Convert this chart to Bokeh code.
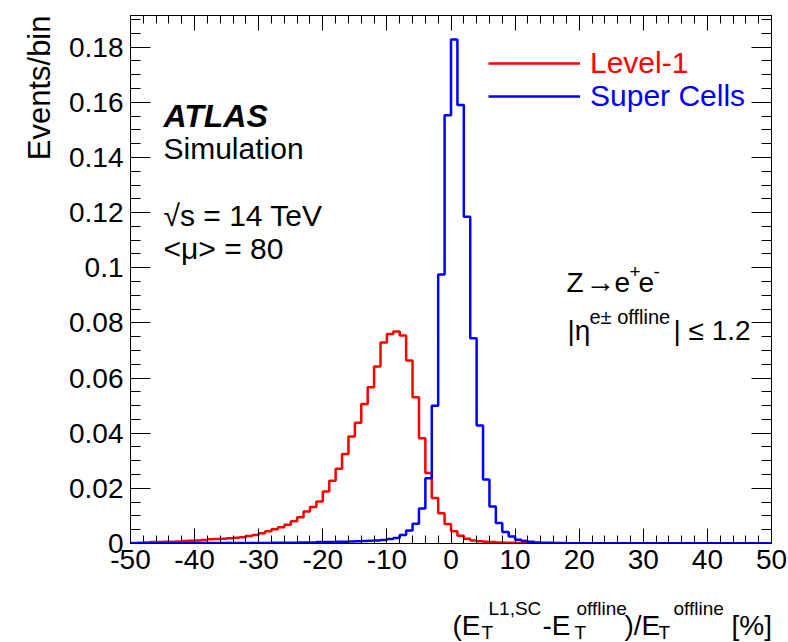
import math
from bokeh.plotting import figure
from bokeh.layouts import column
from bokeh.models import (Range1d, FixedTicker, CustomJSTickFormatter, LinearAxis,
                          Label, Legend, LegendItem, Title)
from bokeh.embed import file_html
from bokeh.resources import INLINE

# ---------------- data ----------------
bin_low = -50
bin_width = 1
# Level-1 histogram (bins of width 1 from -50 to 50)
level1 = [
    0.0002, 0.0003, 0.0004, 0.0005, 0.0005, 0.0006, 0.0006, 0.0007, 0.0009, 0.0010,   # -50..-41
    0.0011, 0.0013, 0.0015, 0.0016, 0.0017, 0.0019, 0.0021, 0.0023, 0.0027, 0.0031,   # -40..-31
    0.0037, 0.0044, 0.0052, 0.0059, 0.0068, 0.0081, 0.0095, 0.0116, 0.0132, 0.0152,   # -30..-21
    0.0189, 0.0228, 0.0271, 0.0325, 0.0388, 0.0438, 0.0506, 0.0567, 0.0642, 0.0729,   # -20..-11
    0.0760, 0.0769, 0.0754, 0.0664, 0.0530, 0.0382, 0.0256, 0.0165, 0.0110, 0.0071,   # -10..-1
    0.0044, 0.0028, 0.0017, 0.0011, 0.0008, 0.0006, 0.0005, 0.0004, 0.0003, 0.0003,   # 0..9
    0.0002, 0.0002, 0.0002, 0.0002, 0.0001, 0.0001, 0.0001, 0.0001, 0.0001, 0.0001,   # 10..19
    0.0001, 0.0001, 0.0001, 0.0001, 0.0001, 0.0001, 0.0001, 0.0001, 0.0001, 0.0001,   # 20..29
    0.0001, 0.0001, 0.0001, 0.0001, 0.0001, 0.0001, 0.0001, 0.0001, 0.0001, 0.0001,   # 30..39
    0.0001, 0.0001, 0.0001, 0.0001, 0.0001, 0.0001, 0.0001, 0.0001, 0.0001, 0.0001,   # 40..49
]
# Super Cells histogram
super_cells = [
    0.0001, 0.0001, 0.0001, 0.0001, 0.0001, 0.0001, 0.0001, 0.0001, 0.0001, 0.0001,   # -50..-41
    0.0002, 0.0002, 0.0002, 0.0002, 0.0002, 0.0002, 0.0002, 0.0002, 0.0002, 0.0002,   # -40..-31
    0.0002, 0.0002, 0.0003, 0.0003, 0.0003, 0.0003, 0.0004, 0.0004, 0.0004, 0.0005,   # -30..-21
    0.0005, 0.0005, 0.0006, 0.0006, 0.0007, 0.0008, 0.0009, 0.0010, 0.0011, 0.0013,   # -20..-11
    0.0016, 0.0020, 0.0031, 0.0047, 0.0072, 0.0127, 0.0237, 0.0500, 0.0976, 0.1553,   # -10..-1
    0.1828, 0.1590, 0.1185, 0.0744, 0.0428, 0.0232, 0.0134, 0.0074, 0.0042, 0.0025,   # 0..9
    0.0014, 0.0009, 0.0006, 0.0004, 0.0003, 0.0003, 0.0002, 0.0002, 0.0001, 0.0001,   # 10..19
    0.0001, 0.0001, 0.0001, 0.0001, 0.0001, 0.0001, 0.0001, 0.0001, 0.0001, 0.0001,   # 20..29
    0.0001, 0.0001, 0.0001, 0.0001, 0.0001, 0.0001, 0.0001, 0.0001, 0.0001, 0.0001,   # 30..39
    0.0001, 0.0001, 0.0001, 0.0001, 0.0001, 0.0001, 0.0001, 0.0001, 0.0001, 0.0001,   # 40..49
]
series_names = ["Level-1", "Super Cells"]
x_ticks = [-50, -40, -30, -20, -10, 0, 10, 20, 30, 40, 50]
x_tick_labels = ["-50", "-40", "-30", "-20", "-10", "0", "10", "20", "30", "40", "50"]
y_ticks = [0, 0.02, 0.04, 0.06, 0.08, 0.10, 0.12, 0.14, 0.16, 0.18]
y_tick_labels = ["0", "0.02", "0.04", "0.06", "0.08", "0.1", "0.12", "0.14", "0.16", "0.18"]

# ---------------- layout ----------------
W = 788
H1 = 590          # main figure height
H2 = 52           # strip holding the x-axis title
FL, FR, FT, FB = 130, 771, 15, 543          # frame edges in page pixels
XMIN, XMAX, YMIN, YMAX = -50, 50, 0.0, 0.1915
FONT = "Liberation Sans"

def X(px):
    return XMIN + (px - FL) / (FR - FL) * (XMAX - XMIN)

def Y(py):
    return YMIN + (FB - py) / (FB - FT) * (YMAX - YMIN)

p = figure(width=W, height=H1, output_backend="svg", toolbar_location=None, title=None,
           x_range=Range1d(XMIN, XMAX), y_range=Range1d(YMIN, YMAX),
           min_border_left=FL, min_border_top=FT,
           min_border_right=W - FR, min_border_bottom=H1 - FB,
           x_axis_location=None, y_axis_location=None)
p.grid.visible = False
p.outline_line_color = "black"
p.outline_line_width = 1
p.background_fill_color = "white"
p.border_fill_color = "white"

edges = [bin_low + i * bin_width for i in range(len(level1) + 1)]
r1 = p.step(x=edges, y=level1 + [level1[-1]], mode="after", line_color="#ff0000", line_width=2.5)
r2 = p.step(x=edges, y=super_cells + [super_cells[-1]], mode="after", line_color="#0000ff", line_width=2.5)

x_minor = [XMIN + 2 * i for i in range(51)]
y_minor = [0.005 * i for i in range(39)]

def fmt(tick_values, labels):
    return CustomJSTickFormatter(args=dict(tv=tick_values, tl=labels), code="""
        for (let i = 0; i < tv.length; i++) {
            if (Math.abs(tv[i] - tick) < 1e-9) return tl[i];
        }
        return "";
    """)

blank = CustomJSTickFormatter(code="return '';")

def style_axis(ax, major, minor, labels_on):
    ax.axis_line_color = "black"
    ax.major_tick_line_color = "black"
    ax.minor_tick_line_color = "black"
    ax.major_tick_in = major
    ax.major_tick_out = 0
    ax.minor_tick_in = minor
    ax.minor_tick_out = 0
    ax.major_label_text_font = FONT
    ax.major_label_text_font_size = "28px"
    ax.major_label_text_color = "black"
    if not labels_on:
        ax.major_label_standoff = 0

xb = LinearAxis(ticker=FixedTicker(ticks=x_ticks, minor_ticks=x_minor),
                formatter=fmt(x_ticks, x_tick_labels))
style_axis(xb, 15, 8, True)
xb.major_label_standoff = 6
p.add_layout(xb, "below")

xt = LinearAxis(ticker=FixedTicker(ticks=x_ticks, minor_ticks=x_minor), formatter=blank)
style_axis(xt, 15, 8, False)
p.add_layout(xt, "above")

yl = LinearAxis(ticker=FixedTicker(ticks=y_ticks, minor_ticks=y_minor),
                formatter=fmt(y_ticks, y_tick_labels))
style_axis(yl, 20, 10, True)
yl.major_label_standoff = 7
p.add_layout(yl, "left")

yr = LinearAxis(ticker=FixedTicker(ticks=y_ticks, minor_ticks=y_minor), formatter=blank)
style_axis(yr, 20, 10, False)
p.add_layout(yr, "right")

# y-axis title, aligned to the top of the axis
ytitle = Title(text="Events/bin", align="right", text_font=FONT, text_font_size="31px",
               text_font_style="normal", text_color="black", standoff=20)
p.add_layout(ytitle, "left")

# ---------------- legends ----------------
def make_legend(name, rend, color, line_py):
    lg = Legend(items=[LegendItem(label=name, renderers=[rend])],
                location=(488 - FL, FB - line_py - 15),
                glyph_width=92, glyph_height=30, label_height=30, label_standoff=10,
                padding=0, margin=0, spacing=0,
                label_text_font=FONT, label_text_font_size="30px", label_text_color=color,
                border_line_alpha=0, background_fill_alpha=0)
    p.add_layout(lg, "center")

make_legend(series_names[0], r1, "#ff0000", 65)
make_legend(series_names[1], r2, "#0000ff", 98)

# ---------------- texts inside the frame ----------------
def txt(s, px, py, size, style="normal", align="left", baseline="alphabetic"):
    p.add_layout(Label(x=X(px), y=Y(py), text=s, text_font=FONT, text_font_size=f"{size}px",
                       text_font_style=style, text_align=align, text_baseline=baseline,
                       text_color="black"))

txt("ATLAS", 163, 115, 32, style="bold italic")
txt("Simulation", 163, 148, 30)
txt("√s = 14 TeV", 163, 215, 30)
txt("<μ> = 80", 163, 248, 30)

# Z -> e+e-
txt("Z", 566, 282, 28)
txt("→", 585, 281, 30)
txt("e", 614, 282, 28)
txt("+", 629, 271, 19)
txt("e", 638, 282, 28)
txt("-", 653, 271, 19)

# |eta| <= 1.2
txt("|η", 567, 330, 28)
txt("e± offline", 589, 316, 20)
txt("| ≤ 1.2", 673, 330, 28)

# ---------------- x-axis title strip (frame aligned with the main plot) ----------------
p2 = figure(width=W, height=H2, output_backend="svg", toolbar_location=None, title=None,
            x_range=Range1d(XMIN, XMAX), y_range=Range1d(H2, 0),
            min_border_left=FL, min_border_right=W - FR, min_border_top=0, min_border_bottom=0,
            x_axis_location=None, y_axis_location=None)
p2.grid.visible = False
p2.outline_line_color = None
p2.background_fill_color = "white"
p2.border_fill_color = "white"

def txt2(s, px, py, size):
    p2.add_layout(Label(x=X(px), y=py - H1, text=s, text_font=FONT,
                        text_font_size=f"{size}px", text_align="left",
                        text_baseline="alphabetic", text_color="black"))

txt2("(E", 452, 625, 28)
txt2("T", 481, 632, 19)
txt2("L1,SC", 488, 608, 19)
txt2("-E", 542, 625, 28)
txt2("T", 574, 632, 19)
txt2("offline", 576, 608, 19)
txt2(")/E", 624, 625, 28)
txt2("T", 658, 632, 19)
txt2("offline", 673, 608, 19)
txt2("[%]", 731, 625, 28)

layout = column(p, p2, spacing=0)
open("out.html", "w").write(file_html(layout, INLINE))
